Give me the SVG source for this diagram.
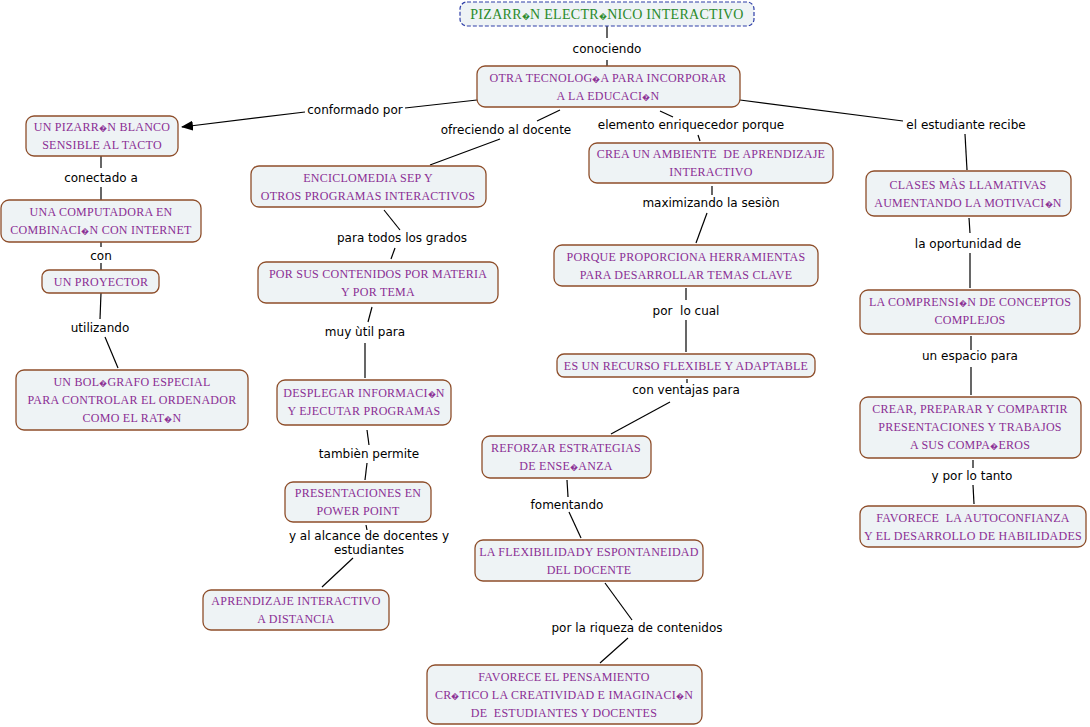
<svg xmlns="http://www.w3.org/2000/svg" width="1090" height="727" viewBox="0 0 1090 727" xml:space="preserve">
<defs>
<marker id="arr" markerWidth="12" markerHeight="10" refX="11" refY="5" orient="auto" markerUnits="userSpaceOnUse">
<path d="M0,0 L12,5 L0,10 z" fill="#000"/>
</marker>
<style>
.n rect{fill:#eef3f5;stroke:#8e4e2a;stroke-width:1.3}
.n text{font-family:"Liberation Serif",serif;font-size:12px;letter-spacing:0.25px;fill:#8a2e94;text-anchor:middle;white-space:pre}
.t rect{fill:#eef3f5;stroke:#2f3fa8;stroke-width:1.2;stroke-dasharray:4,2}
.t text{font-family:"Liberation Serif",serif;font-size:14px;letter-spacing:0.3px;fill:#2a8a2a;text-anchor:middle}
.r{font-size:8px;letter-spacing:0.2px}
.c line{stroke:#000;stroke-width:1.2}
.l{font-family:"DejaVu Sans",sans-serif;font-size:12px;fill:#000;text-anchor:middle;white-space:pre}
</style>
</defs>
<rect width="1090" height="727" fill="#fff"/>
<g id="connectors" class="c">
<line x1="607" y1="26" x2="607" y2="38"/><line x1="607" y1="60" x2="607" y2="66"/>
<line x1="477" y1="100" x2="405" y2="108"/><line x1="305" y1="112" x2="182" y2="127" marker-end="url(#arr)"/>
<line x1="560" y1="110" x2="537" y2="121"/><line x1="500" y1="139" x2="430" y2="165"/>
<line x1="660" y1="111" x2="673" y2="117"/><line x1="698" y1="135" x2="700" y2="141"/>
<line x1="740" y1="100" x2="903" y2="121"/><line x1="965" y1="134" x2="967" y2="170"/>
<line x1="101" y1="156" x2="101" y2="168"/><line x1="101" y1="187" x2="101" y2="200"/>
<line x1="101" y1="242" x2="101" y2="247"/><line x1="101" y1="263" x2="101" y2="270"/>
<line x1="101" y1="293" x2="100" y2="319"/><line x1="105" y1="337" x2="118" y2="368"/>
<line x1="384" y1="210" x2="400" y2="230"/><line x1="395" y1="248" x2="391" y2="259"/>
<line x1="372" y1="307" x2="368" y2="322"/><line x1="365" y1="343" x2="365" y2="378"/>
<line x1="367" y1="430" x2="369" y2="445"/><line x1="367" y1="463" x2="365" y2="480"/>
<line x1="366" y1="525" x2="367" y2="530"/><line x1="353" y1="558" x2="322" y2="587"/>
<line x1="712" y1="186" x2="712" y2="195"/><line x1="707" y1="213" x2="696" y2="243"/>
<line x1="686" y1="288" x2="686" y2="300"/><line x1="686" y1="320" x2="686" y2="352"/>
<line x1="687" y1="379" x2="687" y2="383"/><line x1="670" y1="402" x2="611" y2="434"/>
<line x1="567" y1="480" x2="568" y2="497"/><line x1="569" y1="512" x2="581" y2="538"/>
<line x1="605" y1="583" x2="632" y2="620"/><line x1="628" y1="638" x2="600" y2="663"/>
<line x1="969" y1="218" x2="970" y2="233"/><line x1="970" y1="253" x2="970" y2="288"/>
<line x1="971" y1="336" x2="971" y2="350"/><line x1="971" y1="367" x2="971" y2="395"/>
<line x1="973" y1="460" x2="973" y2="468"/><line x1="973" y1="485" x2="974" y2="504"/>
</g>
<g id="labels">
<text class="l" x="607" y="53">conociendo</text>
<text class="l" x="355" y="114">conformado por</text>
<text class="l" x="506" y="134">ofreciendo al docente</text>
<text class="l" x="691" y="129">elemento enriquecedor porque</text>
<text class="l" x="966" y="129">el estudiante recibe</text>
<text class="l" x="101" y="182">conectado a</text>
<text class="l" x="101" y="260">con</text>
<text class="l" x="100" y="332">utilizando</text>
<text class="l" x="402" y="242">para todos los grados</text>
<text class="l" x="365" y="336">muy ùtil para</text>
<text class="l" x="369" y="458">tambièn permite</text>
<text class="l" x="369" y="540">y al alcance de docentes y</text>
<text class="l" x="369" y="554">estudiantes</text>
<text class="l" x="711" y="207">maximizando la sesiòn</text>
<text class="l" x="686" y="315">por  lo cual</text>
<text class="l" x="686" y="394">con ventajas para</text>
<text class="l" x="567" y="509">fomentando</text>
<text class="l" x="637" y="632">por la riqueza de contenidos</text>
<text class="l" x="968" y="248">la oportunidad de</text>
<text class="l" x="970" y="360">un espacio para</text>
<text class="l" x="972" y="480">y por lo tanto</text>
</g>
<g id="n1" class="t"><rect x="460" y="2" width="294" height="24" rx="7"/><text x="607" y="19">PIZARR<tspan class="r">�</tspan>N ELECTR<tspan class="r">�</tspan>NICO INTERACTIVO</text></g>
<g id="n2" class="n"><rect x="477" y="66" width="263" height="41" rx="8"/><text x="608" y="82">OTRA TECNOLOG<tspan class="r">�</tspan>A PARA INCORPORAR</text><text x="608" y="100">A LA EDUCACI<tspan class="r">�</tspan>N</text></g>
<g id="n3" class="n"><rect x="26" y="116" width="152" height="40" rx="8"/><text x="102" y="131">UN PIZARR<tspan class="r">�</tspan>N BLANCO</text><text x="102" y="149">SENSIBLE AL TACTO</text></g>
<g id="n4" class="n"><rect x="1" y="200" width="200" height="42" rx="8"/><text x="101" y="216">UNA COMPUTADORA EN</text><text x="101" y="234">COMBINACI<tspan class="r">�</tspan>N CON INTERNET</text></g>
<g id="n5" class="n"><rect x="42" y="270" width="117" height="23" rx="7"/><text x="101" y="286">UN PROYECTOR</text></g>
<g id="n6" class="n"><rect x="16" y="370" width="232" height="60" rx="8"/><text x="132" y="386">UN BOL<tspan class="r">�</tspan>GRAFO ESPECIAL</text><text x="132" y="404">PARA CONTROLAR EL ORDENADOR</text><text x="132" y="422">COMO EL RAT<tspan class="r">�</tspan>N</text></g>
<g id="n7" class="n"><rect x="251" y="166" width="235" height="41" rx="8"/><text x="368" y="182">ENCICLOMEDIA SEP Y</text><text x="368" y="200">OTROS PROGRAMAS INTERACTIVOS</text></g>
<g id="n8" class="n"><rect x="258" y="262" width="240" height="41" rx="8"/><text x="378" y="278">POR SUS CONTENIDOS POR MATERIA</text><text x="378" y="296">Y POR TEMA</text></g>
<g id="n9" class="n"><rect x="277" y="380" width="174" height="45" rx="8"/><text x="364" y="397">DESPLEGAR INFORMACI<tspan class="r">�</tspan>N</text><text x="364" y="415">Y EJECUTAR PROGRAMAS</text></g>
<g id="n10" class="n"><rect x="285" y="482" width="146" height="40" rx="8"/><text x="358" y="497">PRESENTACIONES EN</text><text x="358" y="515">POWER POINT</text></g>
<g id="n11" class="n"><rect x="203" y="590" width="186" height="40" rx="8"/><text x="296" y="605">APRENDIZAJE INTERACTIVO</text><text x="296" y="623">A DISTANCIA</text></g>
<g id="n12" class="n"><rect x="589" y="143" width="244" height="40" rx="8"/><text x="711" y="158">CREA UN AMBIENTE  DE APRENDIZAJE</text><text x="711" y="176">INTERACTIVO</text></g>
<g id="n13" class="n"><rect x="554" y="245" width="264" height="41" rx="8"/><text x="686" y="261">PORQUE PROPORCIONA HERRAMIENTAS</text><text x="686" y="279">PARA DESARROLLAR TEMAS CLAVE</text></g>
<g id="n14" class="n"><rect x="557" y="354" width="258" height="23" rx="7"/><text x="686" y="370">ES UN RECURSO FLEXIBLE Y ADAPTABLE</text></g>
<g id="n15" class="n"><rect x="482" y="436" width="169" height="42" rx="8"/><text x="566" y="452">REFORZAR ESTRATEGIAS</text><text x="566" y="470">DE ENSE<tspan class="r">�</tspan>ANZA</text></g>
<g id="n16" class="n"><rect x="475" y="540" width="228" height="41" rx="8"/><text x="589" y="556">LA FLEXIBILIDADY ESPONTANEIDAD</text><text x="589" y="574">DEL DOCENTE</text></g>
<g id="n17" class="n"><rect x="427" y="665" width="275" height="59" rx="8"/><text x="564" y="681">FAVORECE EL PENSAMIENTO</text><text x="564" y="699">CR<tspan class="r">�</tspan>TICO LA CREATIVIDAD E IMAGINACI<tspan class="r">�</tspan>N</text><text x="564" y="717">DE  ESTUDIANTES Y DOCENTES</text></g>
<g id="n18" class="n"><rect x="866" y="171" width="205" height="45" rx="8"/><text x="968" y="189">CLASES MÀS LLAMATIVAS</text><text x="968" y="207">AUMENTANDO LA MOTIVACI<tspan class="r">�</tspan>N</text></g>
<g id="n19" class="n"><rect x="860" y="290" width="220" height="44" rx="8"/><text x="970" y="306">LA COMPRENSI<tspan class="r">�</tspan>N DE CONCEPTOS</text><text x="970" y="324">COMPLEJOS</text></g>
<g id="n20" class="n"><rect x="860" y="397" width="221" height="61" rx="8"/><text x="970" y="413">CREAR, PREPARAR Y COMPARTIR</text><text x="970" y="431">PRESENTACIONES Y TRABAJOS</text><text x="970" y="449">A SUS COMPA<tspan class="r">�</tspan>EROS</text></g>
<g id="n21" class="n"><rect x="860" y="506" width="226" height="41" rx="8"/><text x="973" y="522">FAVORECE  LA AUTOCONFIANZA</text><text x="973" y="540">Y EL DESARROLLO DE HABILIDADES</text></g>
</svg>
